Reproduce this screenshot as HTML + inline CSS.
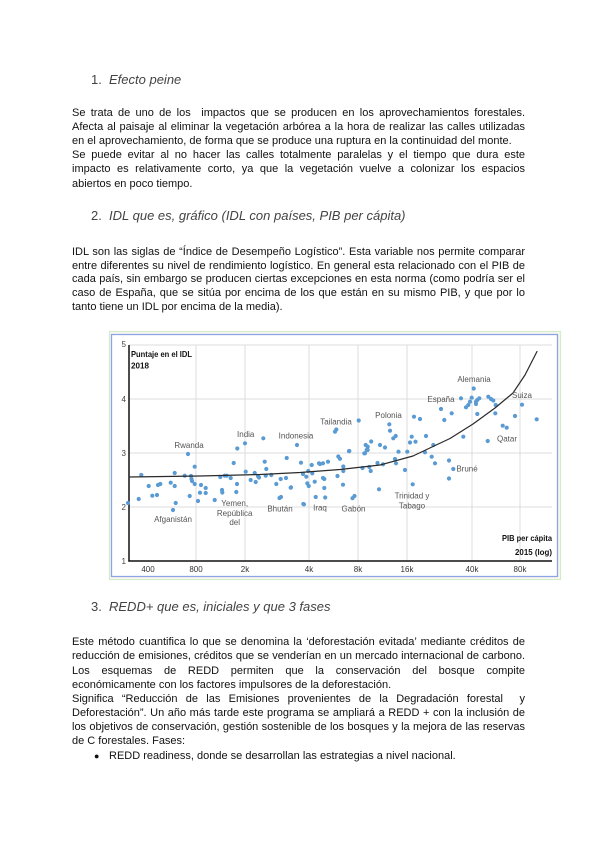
<!DOCTYPE html>
<html>
<head>
<meta charset="utf-8">
<style>
  html,body{margin:0;padding:0;background:#fff;}
  body{width:600px;height:848px;position:relative;overflow:hidden;font-family:"Liberation Sans",Arial,sans-serif;color:#000;}
  .l{position:absolute;left:72px;width:453px;height:14px;line-height:14px;font-size:11px;white-space:nowrap;color:#111;}
  .j{text-align:justify;text-align-last:justify;}
  .hn{position:absolute;left:91px;font-size:13px;line-height:16px;color:#434343;white-space:nowrap;}
  .ht{position:absolute;left:109px;font-size:13px;line-height:16px;font-style:italic;color:#434343;white-space:nowrap;}
  svg{position:absolute;left:0;top:0;}
</style>
</head>
<body>

<div class="hn" style="top:71.5px">1.</div>
<div class="ht" style="top:71.5px">Efecto peine</div>

<div class="l j" style="top:106.3px">Se trata de uno de los &nbsp;impactos que se producen en los aprovechamientos forestales.</div>
<div class="l j" style="top:120.3px">Afecta al paisaje al eliminar la vegetación arbórea a la hora de realizar las calles utilizadas</div>
<div class="l" style="top:134.3px">en el aprovechamiento, de forma que se produce una ruptura en la continuidad del monte.</div>
<div class="l j" style="top:148.3px">Se puede evitar al no hacer las calles totalmente paralelas y el tiempo que dura este</div>
<div class="l j" style="top:162.3px">impacto es relativamente corto, ya que la vegetación vuelve a colonizar los espacios</div>
<div class="l" style="top:176.8px">abiertos en poco tiempo.</div>

<div class="hn" style="top:208px">2.</div>
<div class="ht" style="top:208px">IDL que es, gráfico (IDL con países, PIB per cápita)</div>

<div class="l j" style="top:244.7px">IDL son las siglas de “Índice de Desempeño Logístico”. Esta variable nos permite comparar</div>
<div class="l j" style="top:258.7px">entre diferentes su nivel de rendimiento logístico. En general esta relacionado con el PIB de</div>
<div class="l j" style="top:272.3px">cada país, sin embargo se producen ciertas excepciones en esta norma (como podría ser el</div>
<div class="l j" style="top:286.3px">caso de España, que se sitúa por encima de los que están en su mismo PIB, y que por lo</div>
<div class="l" style="top:300.3px">tanto tiene un IDL por encima de la media).</div>

<div class="hn" style="top:599px">3.</div>
<div class="ht" style="top:599px">REDD+ que es, iniciales y que 3 fases</div>

<div class="l j" style="top:635.3px">Este método cuantifica lo que se denomina la ‘deforestación evitada’ mediante créditos de</div>
<div class="l j" style="top:649.3px">reducción de emisiones, créditos que se venderían en un mercado internacional de carbono.</div>
<div class="l j" style="top:663.7px">Los esquemas de REDD permiten que la conservación del bosque compite</div>
<div class="l" style="top:677.7px">económicamente con los factores impulsores de la deforestación.</div>
<div class="l j" style="top:692px">Significa “Reducción de las Emisiones provenientes de la Degradación forestal &nbsp;y</div>
<div class="l j" style="top:706px">Deforestación”. Un año más tarde este programa se ampliará a REDD + con la inclusión de</div>
<div class="l j" style="top:720.3px">los objetivos de conservación, gestión sostenible de los bosques y la mejora de las reservas</div>
<div class="l" style="top:734.3px">de C forestales. Fases:</div>
<div class="l" style="top:748.7px;left:94px;width:14px;font-size:9px;">●</div>
<div class="l" style="top:748.7px;left:109px;width:420px;">REDD readiness, donde se desarrollan las estrategias a nivel nacional.</div>

<svg width="600" height="848" viewBox="0 0 600 848" xmlns="http://www.w3.org/2000/svg">
  <!-- frame -->
  <rect x="109.5" y="331.5" width="451" height="248" fill="#fafaf2" stroke="#d6ebcb" stroke-width="1.2"/>
  <rect x="111.5" y="334.5" width="446" height="242" fill="#ffffff" stroke="#8ea3e3" stroke-width="1.3"/>

  <!-- gridlines -->
  <g stroke="#dcdcdc" stroke-width="1">
    <line x1="129" y1="345" x2="552" y2="345"/>
    <line x1="129" y1="399" x2="552" y2="399"/>
    <line x1="129" y1="453" x2="552" y2="453"/>
    <line x1="129" y1="507" x2="552" y2="507"/>
    <line x1="196" y1="345" x2="196" y2="561"/>
    <line x1="245" y1="345" x2="245" y2="561"/>
    <line x1="309" y1="345" x2="309" y2="561"/>
    <line x1="358" y1="345" x2="358" y2="561"/>
    <line x1="407" y1="345" x2="407" y2="561"/>
    <line x1="472" y1="345" x2="472" y2="561"/>
    <line x1="520" y1="345" x2="520" y2="561"/>
  </g>

  <!-- axes -->
  <line x1="129" y1="345" x2="129" y2="561.5" stroke="#111" stroke-width="1.5"/>
  <line x1="128.3" y1="561" x2="552" y2="561" stroke="#111" stroke-width="1.5"/>

  <!-- y labels -->
  <g font-family="Liberation Sans, Arial, sans-serif" font-size="8" fill="#444" text-anchor="end">
    <text x="126" y="347">5</text>
    <text x="126" y="402">4</text>
    <text x="126" y="456">3</text>
    <text x="126" y="510">2</text>
    <text x="126" y="564">1</text>
  </g>
  <!-- x labels -->
  <g font-family="Liberation Sans, Arial, sans-serif" font-size="8" fill="#333" text-anchor="middle">
    <text x="148" y="572">400</text>
    <text x="196" y="572">800</text>
    <text x="245" y="572">2k</text>
    <text x="309" y="572">4k</text>
    <text x="358" y="572">8k</text>
    <text x="407" y="572">16k</text>
    <text x="472" y="572">40k</text>
    <text x="520" y="572">80k</text>
  </g>

  <!-- titles -->
  <g font-family="Liberation Sans, Arial, sans-serif" font-size="8.5" font-weight="bold" fill="#111">
    <text x="131" y="357" textLength="61" lengthAdjust="spacingAndGlyphs">Puntaje en el IDL</text>
    <text x="131" y="368.5" textLength="18" lengthAdjust="spacingAndGlyphs">2018</text>
    <text x="552" y="541" text-anchor="end" textLength="50" lengthAdjust="spacingAndGlyphs">PIB per cápita</text>
    <text x="552" y="555" text-anchor="end" textLength="37" lengthAdjust="spacingAndGlyphs">2015 (log)</text>
  </g>

  <!-- dots -->
  <g fill="#5a9bd4">
    <circle cx="128" cy="503" r="2.1"/><circle cx="138.7" cy="499" r="2.1"/><circle cx="141.3" cy="475" r="2.1"/>
    <circle cx="148.7" cy="486" r="2.1"/><circle cx="152.3" cy="495.7" r="2.1"/><circle cx="157" cy="495" r="2.1"/>
    <circle cx="158" cy="485" r="2.1"/><circle cx="160.3" cy="484" r="2.1"/><circle cx="170.7" cy="482.7" r="2.1"/>
    <circle cx="173" cy="510" r="2.1"/><circle cx="174.7" cy="473" r="2.1"/><circle cx="174.7" cy="486" r="2.1"/>
    <circle cx="175.7" cy="503" r="2.1"/><circle cx="188" cy="454" r="2.1"/><circle cx="184.7" cy="475.7" r="2.1"/>
    <circle cx="189.7" cy="496" r="2.1"/><circle cx="191" cy="476" r="2.1"/><circle cx="191.5" cy="479" r="2.1"/>
    <circle cx="192" cy="481" r="2.1"/><circle cx="194.7" cy="466.7" r="2.1"/><circle cx="194.7" cy="484" r="2.1"/>
    <circle cx="198" cy="501" r="2.1"/><circle cx="205.7" cy="488" r="2.1"/><circle cx="205.7" cy="493" r="2.1"/>
    <circle cx="214.7" cy="500" r="2.1"/><circle cx="222" cy="490" r="2.1"/><circle cx="222.3" cy="492.5" r="2.1"/>
    <circle cx="220.3" cy="477" r="2.1"/><circle cx="224.7" cy="475.7" r="2.1"/><circle cx="226.7" cy="475.7" r="2.1"/>
    <circle cx="230.7" cy="478" r="2.1"/><circle cx="233.7" cy="463" r="2.1"/><circle cx="236.3" cy="492" r="2.1"/>
    <circle cx="237" cy="484" r="2.1"/><circle cx="237.3" cy="448.5" r="2.1"/><circle cx="245.7" cy="471.7" r="2.1"/>
    <circle cx="250.7" cy="480" r="2.1"/><circle cx="254.7" cy="473" r="2.1"/><circle cx="255.7" cy="482" r="2.1"/>
    <circle cx="258" cy="476" r="2.1"/><circle cx="259" cy="477.5" r="2.1"/><circle cx="264.7" cy="461.7" r="2.1"/>
    <circle cx="266.3" cy="469" r="2.1"/><circle cx="265.7" cy="475.7" r="2.1"/><circle cx="271.3" cy="475" r="2.1"/>
    <circle cx="276.3" cy="484" r="2.1"/><circle cx="280.7" cy="479" r="2.1"/><circle cx="279.5" cy="498" r="2.1"/>
    <circle cx="281" cy="497" r="2.1"/><circle cx="286" cy="478" r="2.1"/><circle cx="286.7" cy="458" r="2.1"/>
    <circle cx="290.7" cy="487.7" r="2.1"/><circle cx="297" cy="445" r="2.1"/><circle cx="301" cy="462.7" r="2.1"/>
    <circle cx="303.3" cy="504" r="2.1"/><circle cx="303" cy="474" r="2.1"/><circle cx="306.3" cy="476.7" r="2.1"/>
    <circle cx="307.3" cy="483.3" r="2.1"/><circle cx="308.7" cy="486" r="2.1"/><circle cx="311.7" cy="465" r="2.1"/>
    <circle cx="312.3" cy="473.3" r="2.1"/><circle cx="314.7" cy="481.7" r="2.1"/><circle cx="315.7" cy="497" r="2.1"/>
    <circle cx="319" cy="463.3" r="2.1"/><circle cx="323" cy="463.3" r="2.1"/><circle cx="328" cy="461.7" r="2.1"/>
    <circle cx="323" cy="478" r="2.1"/><circle cx="245" cy="443.3" r="2.1"/><circle cx="263.3" cy="438.3" r="2.1"/>
    <circle cx="335" cy="431.7" r="2.1"/><circle cx="336.3" cy="429.5" r="2.1"/><circle cx="358.7" cy="420.5" r="2.1"/>
    <circle cx="389.3" cy="424.3" r="2.1"/><circle cx="390" cy="430.7" r="2.1"/><circle cx="393.3" cy="438.3" r="2.1"/>
    <circle cx="395.7" cy="436" r="2.1"/><circle cx="371.2" cy="441.5" r="2.1"/><circle cx="380" cy="445" r="2.1"/>
    <circle cx="385" cy="447.5" r="2.1"/><circle cx="365.7" cy="445" r="2.1"/><circle cx="367.7" cy="450" r="2.1"/>
    <circle cx="365" cy="453.3" r="2.1"/><circle cx="349" cy="451.2" r="2.1"/><circle cx="338.3" cy="456.5" r="2.1"/>
    <circle cx="340" cy="458.8" r="2.1"/><circle cx="343.3" cy="466.5" r="2.1"/><circle cx="343.3" cy="471" r="2.1"/>
    <circle cx="337.5" cy="476" r="2.1"/><circle cx="343" cy="484.7" r="2.1"/><circle cx="352.5" cy="498.2" r="2.1"/>
    <circle cx="354.5" cy="496" r="2.1"/><circle cx="308.3" cy="471" r="2.1"/><circle cx="324.3" cy="479" r="2.1"/>
    <circle cx="324.3" cy="488" r="2.1"/><circle cx="325.2" cy="497.5" r="2.1"/><circle cx="304" cy="504.3" r="2.1"/>
    <circle cx="362.5" cy="468" r="2.1"/><circle cx="369.3" cy="467" r="2.1"/><circle cx="370.7" cy="471" r="2.1"/>
    <circle cx="377.5" cy="463" r="2.1"/><circle cx="383" cy="464.3" r="2.1"/><circle cx="379" cy="489.3" r="2.1"/>
    <circle cx="398.5" cy="451.7" r="2.1"/><circle cx="291" cy="487.3" r="2.1"/><circle cx="200" cy="492.7" r="2.1"/>
    <circle cx="201" cy="485" r="2.1"/><circle cx="320" cy="464" r="2.1"/><circle cx="349.3" cy="451" r="2.1"/>
    <circle cx="364.3" cy="453.3" r="2.1"/><circle cx="366.7" cy="450" r="2.1"/><circle cx="367.7" cy="446.7" r="2.1"/>
    <circle cx="395" cy="459" r="2.1"/><circle cx="396" cy="463.3" r="2.1"/><circle cx="407.3" cy="451.7" r="2.1"/>
    <circle cx="405" cy="470" r="2.1"/><circle cx="412.7" cy="484.3" r="2.1"/><circle cx="425" cy="452.3" r="2.1"/>
    <circle cx="431.7" cy="456.7" r="2.1"/><circle cx="435" cy="463.3" r="2.1"/><circle cx="449" cy="460.5" r="2.1"/>
    <circle cx="453.3" cy="469" r="2.1"/><circle cx="449" cy="478.5" r="2.1"/><circle cx="473.7" cy="388.5" r="2.1"/>
    <circle cx="461" cy="398.3" r="2.1"/><circle cx="471.7" cy="397.7" r="2.1"/><circle cx="470" cy="401.7" r="2.1"/>
    <circle cx="468.3" cy="405" r="2.1"/><circle cx="466" cy="407.3" r="2.1"/><circle cx="476" cy="401.7" r="2.1"/>
    <circle cx="477.3" cy="400" r="2.1"/><circle cx="479.3" cy="398.3" r="2.1"/><circle cx="476" cy="404" r="2.1"/>
    <circle cx="477.3" cy="414" r="2.1"/><circle cx="441" cy="409" r="2.1"/><circle cx="451.7" cy="413.3" r="2.1"/>
    <circle cx="444.3" cy="420" r="2.1"/><circle cx="488.3" cy="396.7" r="2.1"/><circle cx="491" cy="399" r="2.1"/>
    <circle cx="493.3" cy="400.5" r="2.1"/><circle cx="495.7" cy="405" r="2.1"/><circle cx="495.3" cy="413.3" r="2.1"/>
    <circle cx="522" cy="404.7" r="2.1"/><circle cx="515" cy="416" r="2.1"/><circle cx="536.7" cy="419.3" r="2.1"/>
    <circle cx="502.7" cy="425.7" r="2.1"/><circle cx="506.7" cy="427.7" r="2.1"/><circle cx="487.7" cy="441" r="2.1"/>
    <circle cx="463.3" cy="436.7" r="2.1"/><circle cx="414" cy="416.7" r="2.1"/><circle cx="420" cy="419" r="2.1"/>
    <circle cx="411.7" cy="436.7" r="2.1"/><circle cx="415.5" cy="441.7" r="2.1"/><circle cx="410" cy="442.5" r="2.1"/>
    <circle cx="426" cy="436" r="2.1"/><circle cx="433.3" cy="445" r="2.1"/>
  </g>

  <!-- trend curve -->
  <polyline fill="none" stroke="#2a2a2a" stroke-width="1.2" stroke-linejoin="round" stroke-linecap="round"
    points="129,477 200,476 260,474.5 300,472.5 340,469.5 380,465 413,456 433,446.5 450,438.5 473,424 495,408 513,393 525,375 537,351.5"/>

  <!-- country labels -->
  <g font-family="Liberation Sans, Arial, sans-serif" font-size="8" fill="#555" text-anchor="middle">
    <text x="189" y="448">Rwanda</text>
    <text x="245.7" y="437">India</text>
    <text x="296" y="438.5">Indonesia</text>
    <text x="336" y="424.7">Tailandia</text>
    <text x="388.5" y="418">Polonia</text>
    <text x="441" y="402">España</text>
    <text x="474" y="382">Alemania</text>
    <text x="522" y="398">Suiza</text>
    <text x="507" y="441.3">Qatar</text>
    <text x="467" y="471.3">Bruné</text>
    <text x="412" y="498.5">Trinidad y</text>
    <text x="412" y="508.5">Tabago</text>
    <text x="353.5" y="511.3">Gabón</text>
    <text x="320" y="510.5">Iraq</text>
    <text x="280" y="511.3">Bhután</text>
    <text x="234.7" y="506">Yemen,</text>
    <text x="234.7" y="516">República</text>
    <text x="234.7" y="525">del</text>
    <text x="173" y="522">Afganistán</text>
  </g>
</svg>

</body>
</html>
